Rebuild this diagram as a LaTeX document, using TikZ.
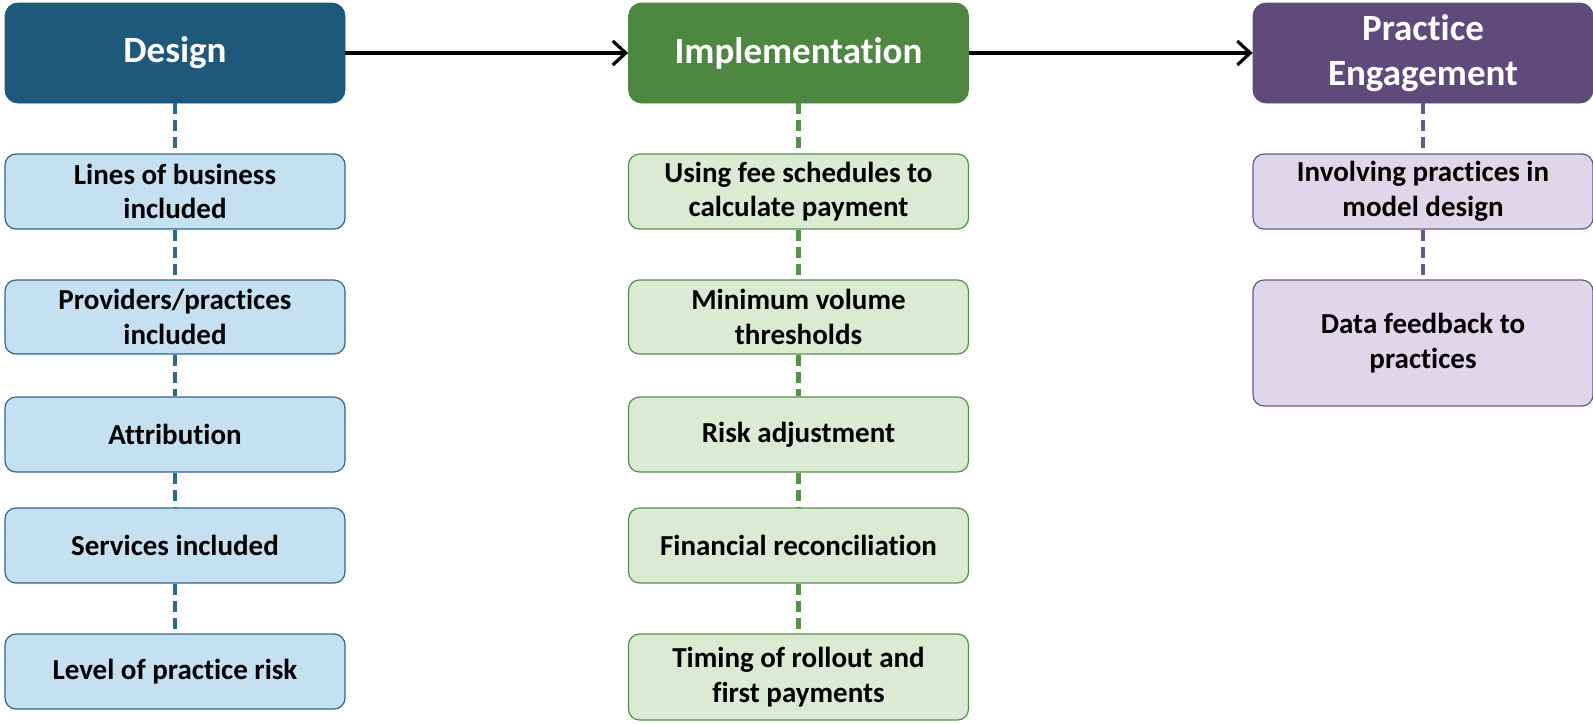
\documentclass[tikz,border=0pt]{standalone}
\usepackage{fontspec}
\setmainfont{Carlito}[Ligatures=NoCommon]
\usetikzlibrary{arrows.meta}
\definecolor{dhead}{RGB}{30,89,124}
\definecolor{dsub}{RGB}{197,224,241}
\definecolor{dline}{RGB}{46,104,140}
\definecolor{ihead}{RGB}{78,135,66}
\definecolor{isub}{RGB}{218,234,211}
\definecolor{iline}{RGB}{88,143,78}
\definecolor{phead}{RGB}{96,74,123}
\definecolor{psub}{RGB}{223,215,233}
\definecolor{pline}{RGB}{104,88,138}
\tikzset{
  hdr/.style={rounded corners=13pt, minimum width=340pt, minimum height=100pt, inner sep=0pt,
    align=center, text=white, font=\fontsize{37}{45}\selectfont\bfseries, line width=0.8pt},
  subbox/.style={rounded corners=11pt, minimum width=340pt, inner sep=0pt,
    align=center, text=black, font=\fontsize{29}{34.5}\selectfont\bfseries, line width=1.2pt},
  dlink/.style={line width=4.5pt, dash pattern=on 11pt off 6pt},
  flow/.style={line width=3.2pt, -{Straight Barb[length=13pt,width=24pt,line width=3.2pt]}}
}
\begin{document}
\begin{tikzpicture}[x=1pt,y=-1pt]
\useasboundingbox (0,0) rectangle (1593,723);
% headers
\node[hdr, fill=dhead, draw=dhead] (d0) at (175,53) {Design};
\node[hdr, fill=ihead, draw=ihead] (i0) at (798.5,53) {Implementation};
\node[hdr, fill=phead, draw=phead] (p0) at (1423,53) {Practice\\Engagement};
% design column
\node[subbox, fill=dsub, draw=dline, minimum height=75pt] (d1) at (175,191.5) {Lines of business\\included};
\node[subbox, fill=dsub, draw=dline, minimum height=74pt] (d2) at (175,317) {Providers/practices\\included};
\node[subbox, fill=dsub, draw=dline, minimum height=75pt] (d3) at (175,434.5) {Attribution};
\node[subbox, fill=dsub, draw=dline, minimum height=75pt] (d4) at (175,545.5) {Services included};
\node[subbox, fill=dsub, draw=dline, minimum height=75pt] (d5) at (175,671.5) {Level of practice risk};
% implementation column
\node[subbox, fill=isub, draw=iline, minimum height=75pt] (i1) at (798.5,191.5) {Using fee schedules to\\calculate payment};
\node[subbox, fill=isub, draw=iline, minimum height=74pt] (i2) at (798.5,317) {Minimum volume\\thresholds};
\node[subbox, fill=isub, draw=iline, minimum height=75pt] (i3) at (798.5,434.5) {Risk adjustment};
\node[subbox, fill=isub, draw=iline, minimum height=75pt] (i4) at (798.5,545.5) {Financial reconciliation};
\node[subbox, fill=isub, draw=iline, minimum height=86pt] (i5) at (798.5,677) {Timing of rollout and\\first payments};
% practice column
\node[subbox, fill=psub, draw=pline, minimum height=75pt] (p1) at (1423,191.5) {Involving practices in\\model design};
\node[subbox, fill=psub, draw=pline, minimum height=126pt] (p2) at (1423,343) {Data feedback to\\practices};
% dashed links
\foreach \a/\b in {d0/d1,d1/d2,d2/d3,d3/d4,d4/d5}
  \draw[dlink, draw=dline] (\a.south) -- (\b.north);
\foreach \a/\b in {i0/i1,i1/i2,i2/i3,i3/i4,i4/i5}
  \draw[dlink, draw=iline] (\a.south) -- (\b.north);
\foreach \a/\b in {p0/p1,p1/p2}
  \draw[dlink, draw=pline] (\a.south) -- (\b.north);
% flow arrows
\draw[flow] (d0.east) -- (i0.west);
\draw[flow] (i0.east) -- (p0.west);
\end{tikzpicture}
\end{document}
